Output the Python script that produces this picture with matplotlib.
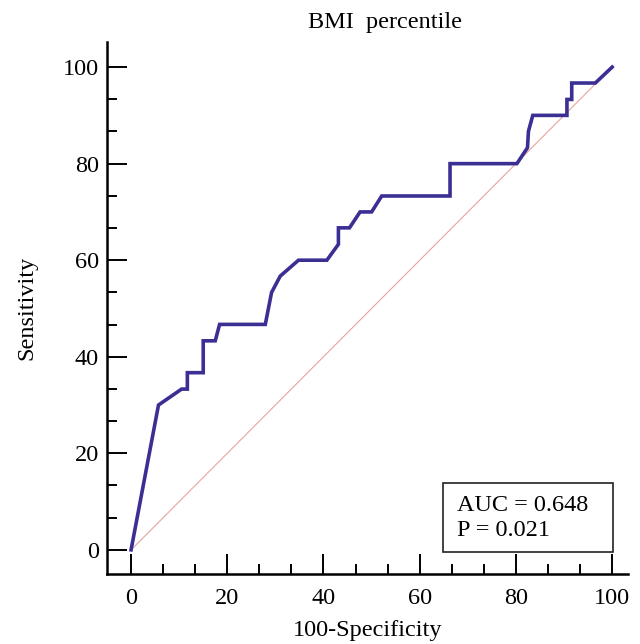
import matplotlib.pyplot as plt
import numpy as np
from matplotlib.ticker import MultipleLocator
from matplotlib.patches import Rectangle

plt.rcParams['font.family'] = ['Liberation Serif', 'DejaVu Serif']

# ROC curve
fpr = [0, 5.7, 10.5, 11.7, 11.7, 15, 15, 17.5, 18.4, 27.9, 29.2, 31, 34.8, 40.7,
       43.1, 43.1, 45.4, 47.6, 50, 52.1, 66.3, 66.3, 80.2, 82.4, 82.6, 83.5,
       90.6, 90.6, 91.6, 91.6, 96.5, 100]
tpr = [0, 30, 33.3, 33.3, 36.7, 36.7, 43.3, 43.3, 46.7, 46.7, 53.3, 56.7, 60, 60,
       63.3, 66.7, 66.7, 70, 70, 73.3, 73.3, 80, 80, 83.3, 86.7, 90,
       90, 93.3, 93.3, 96.7, 96.7, 100]
auc = 0.648
p_value = 0.021

fig = plt.figure(figsize=(6.4, 6.44), dpi=100)
ax = fig.add_axes([0.1672, 0.1087, 0.8141, 0.8261])

ax.plot([0, 100], [0, 100], color='#e8a49c', lw=0.8)
ax.plot(fpr, tpr, color='#3b2f94', lw=2.6, solid_joinstyle='miter')

ax.set_xlim(-5, 103.3)
ax.set_ylim(-5, 105.2)
ax.xaxis.set_major_locator(MultipleLocator(20))
ax.yaxis.set_major_locator(MultipleLocator(20))
ax.xaxis.set_minor_locator(MultipleLocator(20 / 3))
ax.yaxis.set_minor_locator(MultipleLocator(20 / 3))

for s in ['top', 'right']:
    ax.spines[s].set_visible(False)
for s in ['left', 'bottom']:
    ax.spines[s].set_linewidth(1.8)
ax.tick_params(which='major', direction='in', length=14.5, width=1.4,
               labelsize=17.5, pad=6)
ax.tick_params(which='minor', direction='in', length=7.2, width=1.4)
ax.tick_params(axis='x', which='major', pad=10)

ax.set_title('BMI  percentile', fontsize=17.5, pad=10, x=0.534)
ax.set_xlabel('100-Specificity', fontsize=17.5, labelpad=8)
ax.set_ylabel('Sensitivity', fontsize=17.5, labelpad=18)

ax.add_patch(Rectangle((64.9, -0.4), 35.3, 14.3, fc='white', ec='#222222',
                       lw=1.2, zorder=3))
ax.text(67.8, 11.4, f'AUC = {auc:.3f}\nP = {p_value:.3f}', fontsize=17.5,
        va='top', ha='left', linespacing=1.23, zorder=4)

fig.savefig('out.png', dpi=100)
